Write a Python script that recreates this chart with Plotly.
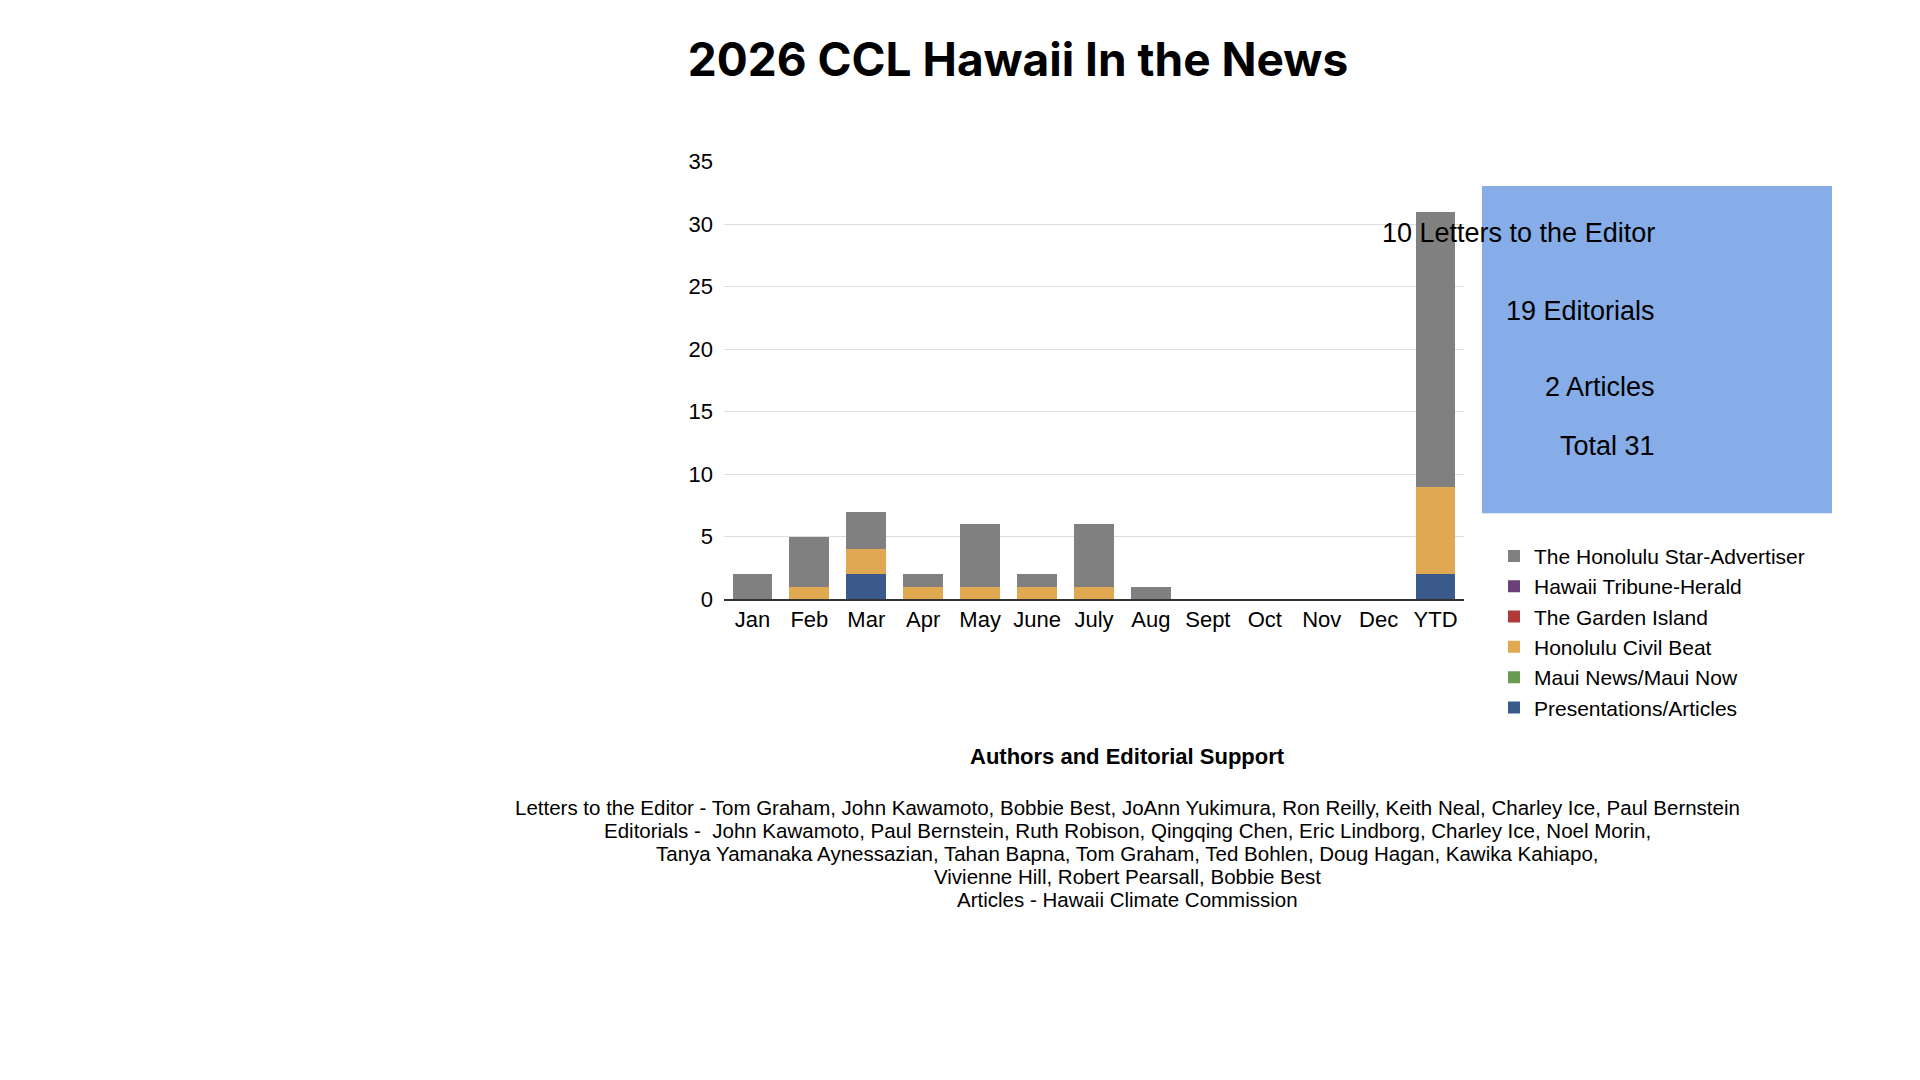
import plotly.graph_objects as go

W, H = 1920, 1080

months = ["Jan", "Feb", "Mar", "Apr", "May", "June", "July", "Aug",
          "Sept", "Oct", "Nov", "Dec", "YTD"]

# stacked counts per outlet, bottom to top
series = {
    "Presentations/Articles": ([0, 0, 2, 0, 0, 0, 0, 0, 0, 0, 0, 0, 2], "#3A5A8C"),
    "Maui News/Maui Now": ([0] * 13, "#6A9A50"),
    "Honolulu Civil Beat": ([0, 1, 2, 1, 1, 1, 1, 0, 0, 0, 0, 0, 7], "#E0A851"),
    "The Garden Island": ([0] * 13, "#B03A3A"),
    "Hawaii Tribune-Herald": ([0] * 13, "#6B3F7A"),
    "The Honolulu Star-Advertiser": ([2, 4, 3, 1, 5, 1, 5, 1, 0, 0, 0, 0, 22], "#808080"),
}

fig = go.Figure()
for name, (vals, color) in series.items():
    fig.add_trace(go.Bar(x=months, y=vals, name=name, marker_color=color,
                         marker_line_width=0, width=0.7))

fnt = "Liberation Sans, Arial, sans-serif"

def px_x(v):
    return v / W

def px_y(v):
    return 1 - v / H

fig.update_layout(
    width=W, height=H,
    margin=dict(l=0, r=0, t=0, b=0),
    barmode="stack",
    plot_bgcolor="white", paper_bgcolor="white",
    font=dict(family=fnt, size=22, color="black"),
    xaxis=dict(domain=[px_x(716), px_x(1456)], showline=True, linecolor="#333",
               linewidth=1.5, ticks="", tickfont=dict(size=22)),
    yaxis=dict(domain=[px_y(593), px_y(145)], range=[0, 35], dtick=5,
               gridcolor="#DDDDDD", zeroline=False, tickfont=dict(size=22),
               ticklabelstandoff=10),
    legend=dict(x=px_x(1486), y=px_y(528), xanchor="left", yanchor="top",
                traceorder="reversed", font=dict(size=21), itemwidth=30,
                tracegroupgap=0, bgcolor="rgba(0,0,0,0)"),
    title=dict(text="<b>2026 CCL Hawaii In the News</b>", x=1010 / W, xanchor="center",
               y=px_y(52), yanchor="middle",
               font=dict(family="Inter, sans-serif", size=46, color="black")),
)

# summary box
fig.add_shape(type="rect", xref="paper", yref="paper",
              x0=px_x(1474), x1=px_x(1824), y0=px_y(505), y1=px_y(170),
              fillcolor="#86ADE7", line_width=0, layer="below")
for txt, yy in [("10 Letters to the Editor", 201), ("19 Editorials", 281),
                ("2 Articles", 358), ("Total 31", 436)]:
    fig.add_annotation(text=txt, xref="paper", yref="paper", x=px_x(1649), y=px_y(yy),
                       showarrow=False, font=dict(size=27, color="black"))

fig.add_annotation(text="<b>Authors and Editorial Support</b>", xref="paper", yref="paper",
                   x=px_x(1119), y=px_y(769), showarrow=False, font=dict(size=22))

credits = [
    "Letters to the Editor - Tom Graham, John Kawamoto, Bobbie Best, JoAnn Yukimura, Ron Reilly, Keith Neal, Charley Ice, Paul Bernstein",
    "Editorials -  John Kawamoto, Paul Bernstein, Ruth Robison, Qingqing Chen, Eric Lindborg, Charley Ice, Noel Morin,",
    "Tanya Yamanaka Aynessazian, Tahan Bapna, Tom Graham, Ted Bohlen, Doug Hagan, Kawika Kahiapo,",
    "Vivienne Hill, Robert Pearsall, Bobbie Best",
    "Articles - Hawaii Climate Commission",
]
for i, line in enumerate(credits):
    fig.add_annotation(text=line, xref="paper", yref="paper", x=px_x(1119),
                       y=px_y(820 + i * 23.5), showarrow=False, font=dict(size=20.5))

fig.write_html("out.html")
